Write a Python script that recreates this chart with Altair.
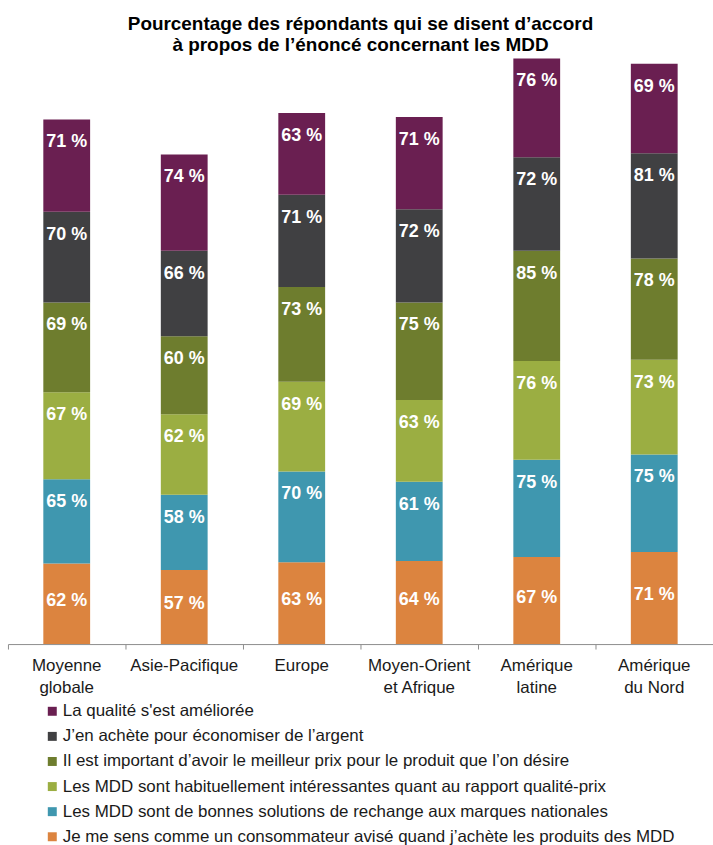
import altair as alt
import pandas as pd

regions = ["Moyenne|globale", "Asie-Pacifique", "Europe", "Moyen-Orient|et Afrique", "Amérique|latine", "Amérique|du Nord"]
series = [
    "Je me sens comme un consommateur avisé quand j’achète les produits des MDD",
    "Les MDD sont de bonnes solutions de rechange aux marques nationales",
    "Les MDD sont habituellement intéressantes quant au rapport qualité-prix",
    "Il est important d’avoir le meilleur prix pour le produit que l’on désire",
    "J’en achète pour économiser de l’argent",
    "La qualité s'est améliorée",
]
colors = ["#DC843F", "#3F97AF", "#9BAE42", "#6E7D2E", "#404042", "#6A1F51"]

v_avise = [62, 57, 63, 64, 67, 71]
v_rechange = [65, 58, 70, 61, 75, 75]
v_rapport = [67, 62, 69, 63, 76, 73]
v_prix = [69, 60, 73, 75, 85, 78]
v_economiser = [70, 66, 71, 72, 72, 81]
v_qualite = [71, 74, 63, 71, 76, 69]
values = [v_avise, v_rechange, v_rapport, v_prix, v_economiser, v_qualite]

rows = []
for si, (s, vals) in enumerate(zip(series, values)):
    for r, v in zip(regions, vals):
        rows.append({"region": r, "serie": s, "o": si, "value": v, "label": f"{v} %"})
df = pd.DataFrame(rows)

FONT = "Liberation Sans"

base = alt.Chart(df).transform_stack(
    stack="value", as_=["y0", "y1"], groupby=["region"], sort=[alt.SortField("o", order="ascending")]
).transform_calculate(mid="(datum.y0 + datum.y1) / 2")

x = alt.X("region:N", sort=regions, title=None,
          scale=alt.Scale(paddingInner=0, paddingOuter=0),
          axis=alt.Axis(labelExpr="split(datum.label, '|')", labelAngle=0, labelFontSize=17,
                        labelColor="#1a1a1a", labelFont=FONT, labelPadding=9, labelLineHeight=22,
                        domainColor="#8c8c8c", tickColor="#8c8c8c", tickSize=5, bandPosition=0,
                        labelBaseline="top"))
yscale = alt.Scale(domain=[0, 451], nice=False, zero=True)

bars = base.mark_bar(size=47).encode(
    x=x,
    y=alt.Y("y1:Q", scale=yscale, axis=None),
    y2="y0:Q",
    color=alt.Color("serie:N", scale=alt.Scale(domain=series[::-1], range=colors[::-1]),
                    legend=alt.Legend(title=None, orient="none", legendX=36, legendY=647,
                                      symbolType="square", symbolSize=81, symbolStrokeWidth=0,
                                      labelFont=FONT, labelFontSize=17, labelColor="#1a1a1a",
                                      rowPadding=7.2, labelOffset=2, padding=0, labelLimit=700)),
)

txt_top = base.transform_filter("datum.o > 0").mark_text(
    color="white", font=FONT, fontWeight="bold", fontSize=18, dy=23, baseline="middle"
).encode(x=x, y=alt.Y("y1:Q", scale=yscale), text="label:N")

txt_bot = base.transform_filter("datum.o == 0").mark_text(
    color="white", font=FONT, fontWeight="bold", fontSize=18, dy=-3, baseline="middle"
).encode(x=x, y=alt.Y("mid:Q", scale=yscale), text="label:N")

chart = alt.layer(bars, txt_top, txt_bot).properties(
    width=708, height=588,
    title=alt.TitleParams(["Pourcentage des répondants qui se disent d’accord",
                           "à propos de l’énoncé concernant les MDD"],
                          font=FONT, fontSize=19, fontWeight="bold", color="#000000",
                          anchor="middle", lineHeight=21, offset=4),
    autosize=alt.AutoSizeParams(type="none"),
    padding={"left": 8, "top": 57, "right": 0, "bottom": 200},
).configure_view(stroke=None)

chart.save("out.html", embed_options={"renderer": "svg", "actions": False})
